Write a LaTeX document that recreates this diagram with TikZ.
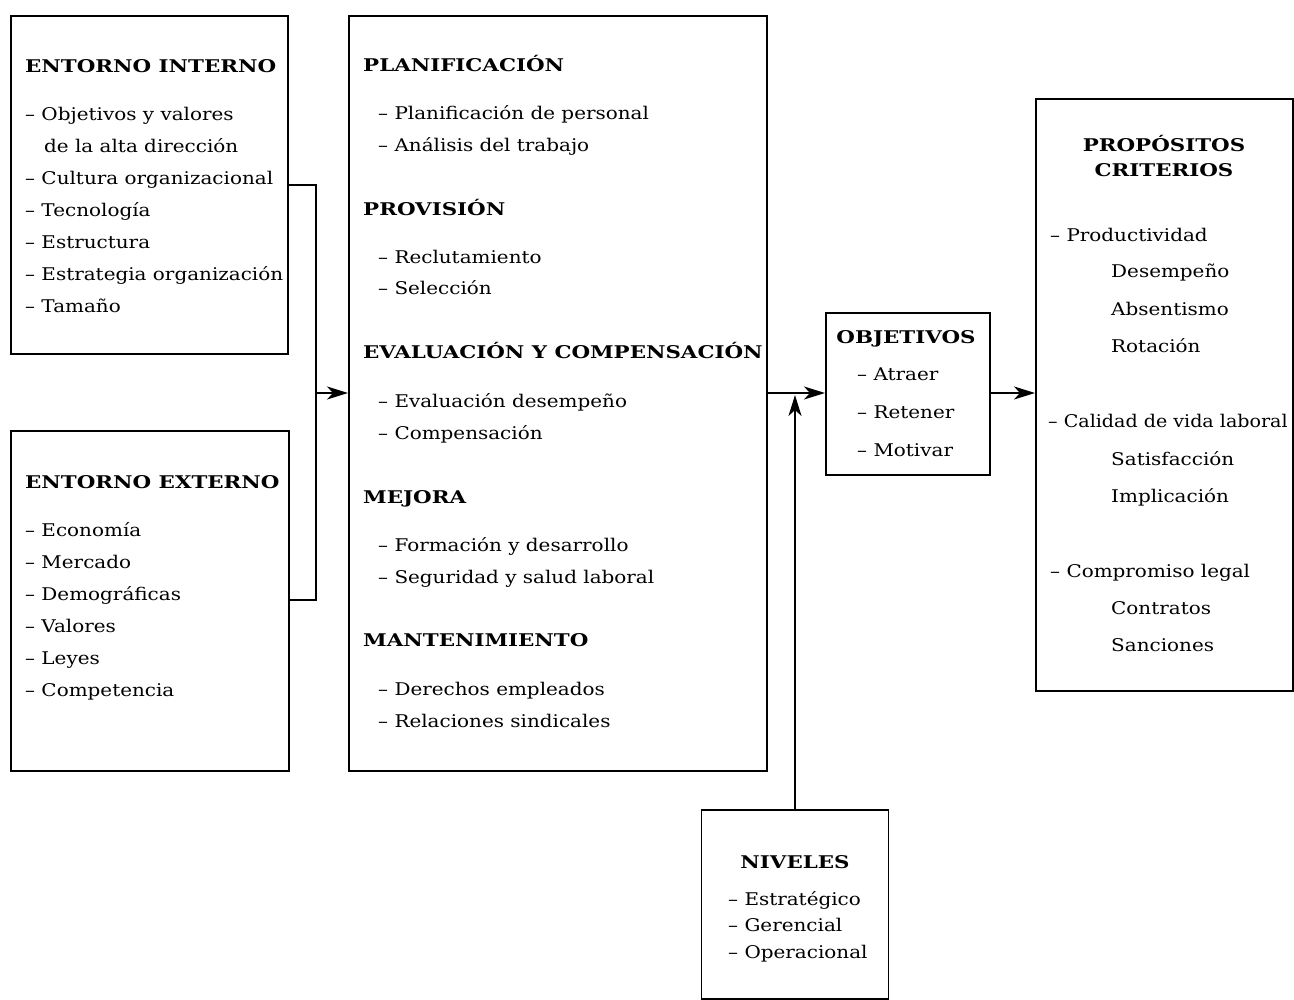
\documentclass[tikz,border=0pt]{standalone}
\usepackage{fontspec}
\setmainfont{DejaVu Serif}[FakeStretch=1.14]
\newfontfamily\headfont{DejaVu Serif}[FakeStretch=1.22]
\newfontfamily\narrowfont{DejaVu Serif}[FakeStretch=1.09]
\usetikzlibrary{arrows.meta}
\tikzset{
  box/.style={draw, line width=1.8pt, inner sep=0pt},
  txt/.style={anchor=base west, inner sep=0pt, font=\fontsize{17.5}{20}\selectfont},
  head/.style={anchor=base west, inner sep=0pt, font=\fontsize{17.5}{20}\selectfont\headfont\bfseries},
  headc/.style={anchor=base, inner sep=0pt, font=\fontsize{17.5}{20}\selectfont\headfont\bfseries},
  conn/.style={line width=1.8pt},
  arr/.style={line width=1.8pt, -{Stealth[length=21pt,width=13pt,inset=6pt]}},
}
\begin{document}
\begin{tikzpicture}[x=1pt,y=-1pt]
\useasboundingbox (0,0) rectangle (1294,1000);
\fill[white] (0,0) rectangle (1294,1000);
% boxes
\node[box, minimum width=277pt, minimum height=338pt, anchor=north west] (interno) at (10,15) {};
\node[box, minimum width=278pt, minimum height=340pt, anchor=north west] (externo) at (10,430) {};
\node[box, minimum width=418pt, minimum height=755pt, anchor=north west] (centro) at (348,15) {};
\node[box, minimum width=164pt, minimum height=162pt, anchor=north west] (objetivos) at (825,312) {};
\node[box, minimum width=257pt, minimum height=592pt, anchor=north west] (propositos) at (1035,98) {};
\node[box, minimum width=187pt, minimum height=189pt, anchor=north] (niveles) at (795,809) {};
% entorno interno
\node[head] (i0) at (25,73) {ENTORNO INTERNO};
\node[txt] (i1) at (25,121) {– Objetivos y valores};
\node[txt] (i2) at (44,153) {de la alta dirección};
\node[txt] (i3) at (25,185) {– Cultura organizacional};
\node[txt] (i4) at (25,217) {– Tecnología};
\node[txt] (i5) at (25,249) {– Estructura};
\node[txt] (i6) at (25,281) {– Estrategia organización};
\node[txt] (i7) at (25,313) {– Tamaño};
% entorno externo
\node[head] (e0) at (25,488) {ENTORNO EXTERNO};
\node[txt] (e1) at (25,536) {– Economía};
\node[txt] (e2) at (25,568) {– Mercado};
\node[txt] (e3) at (25,600) {– Demográficas};
\node[txt] (e4) at (25,632) {– Valores};
\node[txt] (e5) at (25,664) {– Leyes};
\node[txt] (e6) at (25,696) {– Competencia};
% centro
\node[head] (c0) at (363,72) {PLANIFICACIÓN};
\node[txt] (c1) at (378,120) {– Planificación de personal};
\node[txt] (c2) at (378,152) {– Análisis del trabajo};
\node[head] (c3) at (363,216) {PROVISIÓN};
\node[txt] (c4) at (378,264) {– Reclutamiento};
\node[txt] (c5) at (378,295) {– Selección};
\node[head] (c6) at (363,359) {EVALUACIÓN Y COMPENSACIÓN};
\node[txt] (c7) at (378,407) {– Evaluación desempeño};
\node[txt] (c8) at (378,439) {– Compensación};
\node[head] (c9) at (363,503) {MEJORA};
\node[txt] (c10) at (378,551) {– Formación y desarrollo};
\node[txt] (c11) at (378,583) {– Seguridad y salud laboral};
\node[head] (c12) at (363,646) {MANTENIMIENTO};
\node[txt] (c13) at (378,695) {– Derechos empleados};
\node[txt] (c14) at (378,727) {– Relaciones sindicales};
% objetivos
\node[headc] (o0) at (906,344) {OBJETIVOS};
\node[txt] (o1) at (857,381) {– Atraer};
\node[txt] (o2) at (857,418) {– Retener};
\node[txt] (o3) at (857,456) {– Motivar};
% propositos
\node[headc] (p0) at (1164,152) {PROPÓSITOS};
\node[headc] (p1) at (1164,177) {CRITERIOS};
\node[txt] (p2) at (1050,242) {– Productividad};
\node[txt] (p3) at (1111,278) {Desempeño};
\node[txt] (p4) at (1111,316) {Absentismo};
\node[txt] (p5) at (1111,353) {Rotación};
\node[txt, font=\fontsize{17.5}{20}\selectfont\narrowfont] (p6) at (1048,428) {– Calidad de vida laboral};
\node[txt] (p7) at (1111,465) {Satisfacción};
\node[txt] (p8) at (1111,502) {Implicación};
\node[txt] (p9) at (1050,577) {– Compromiso legal};
\node[txt] (p10) at (1111,614) {Contratos};
\node[txt] (p11) at (1111,651) {Sanciones};
% niveles
\node[headc] (n0) at (795,868) {NIVELES};
\node[txt] (n1) at (728,905) {– Estratégico};
\node[txt] (n2) at (728,931) {– Gerencial};
\node[txt] (n3) at (728,958) {– Operacional};
% connectors
\coordinate (join) at (316,393);
\draw[conn] (interno.east |- 0,185) -| (join) |- (externo.east |- 0,600);
\draw[arr] (join) -- (centro.west |- join);
\draw[arr] (centro.east |- join) -- (objetivos.west |- join);
\draw[arr] (niveles.north) -- (niveles.north |- 0,395);
\draw[arr] (objetivos.east |- join) -- (propositos.west |- join);
\end{tikzpicture}
\end{document}
